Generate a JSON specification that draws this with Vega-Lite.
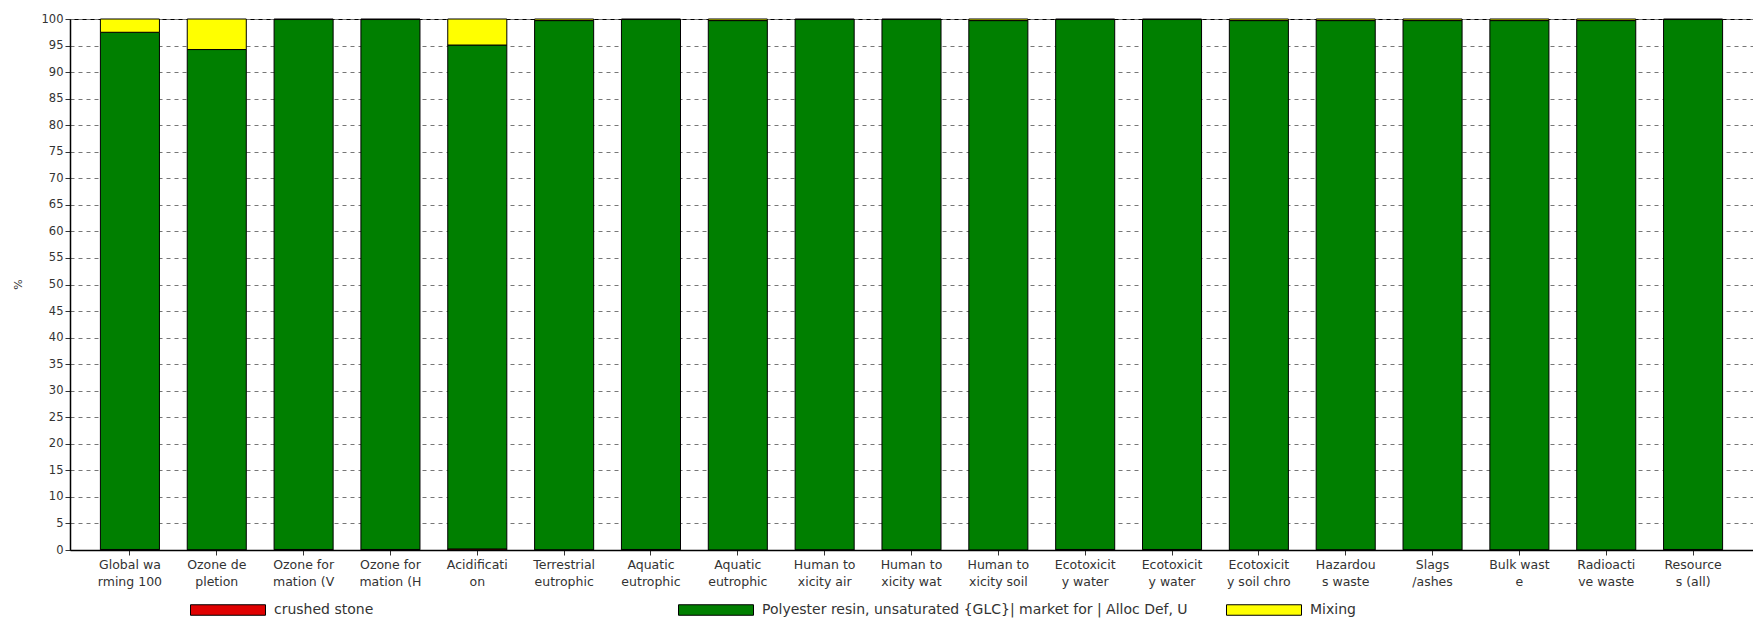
{
  "$schema": "https://vega.github.io/schema/vega-lite/v6.json",
  "width": 1683,
  "height": 531,
  "autosize": {"type": "none"},
  "padding": {"left": 70, "top": 19, "right": 0, "bottom": 70},
  "background": "white",
  "config": {
    "view": {"stroke": "black", "strokeWidth": 1},
    "font": "DejaVu Sans"
  },
  "data": {
    "values": [
      {"category": "Global wa|rming 100", "source": "crushed stone", "value": 0.1},
      {"category": "Global wa|rming 100", "source": "Polyester resin, unsaturated {GLC}| market for | Alloc Def, U", "value": 97.4},
      {"category": "Global wa|rming 100", "source": "Mixing", "value": 2.5},
      {"category": "Ozone de|pletion", "source": "crushed stone", "value": 0.05},
      {"category": "Ozone de|pletion", "source": "Polyester resin, unsaturated {GLC}| market for | Alloc Def, U", "value": 94.2},
      {"category": "Ozone de|pletion", "source": "Mixing", "value": 5.75},
      {"category": "Ozone for|mation (V", "source": "crushed stone", "value": 0.1},
      {"category": "Ozone for|mation (V", "source": "Polyester resin, unsaturated {GLC}| market for | Alloc Def, U", "value": 99.8},
      {"category": "Ozone for|mation (V", "source": "Mixing", "value": 0.1},
      {"category": "Ozone for|mation (H", "source": "crushed stone", "value": 0.1},
      {"category": "Ozone for|mation (H", "source": "Polyester resin, unsaturated {GLC}| market for | Alloc Def, U", "value": 99.8},
      {"category": "Ozone for|mation (H", "source": "Mixing", "value": 0.1},
      {"category": "Acidificati|on", "source": "crushed stone", "value": 0.2},
      {"category": "Acidificati|on", "source": "Polyester resin, unsaturated {GLC}| market for | Alloc Def, U", "value": 94.9},
      {"category": "Acidificati|on", "source": "Mixing", "value": 4.9},
      {"category": "Terrestrial|eutrophic", "source": "crushed stone", "value": 0.05},
      {"category": "Terrestrial|eutrophic", "source": "Polyester resin, unsaturated {GLC}| market for | Alloc Def, U", "value": 99.65},
      {"category": "Terrestrial|eutrophic", "source": "Mixing", "value": 0.3},
      {"category": "Aquatic|eutrophic|N", "source": "crushed stone", "value": 0.1},
      {"category": "Aquatic|eutrophic|N", "source": "Polyester resin, unsaturated {GLC}| market for | Alloc Def, U", "value": 99.8},
      {"category": "Aquatic|eutrophic|N", "source": "Mixing", "value": 0.1},
      {"category": "Aquatic|eutrophic|P", "source": "crushed stone", "value": 0.02},
      {"category": "Aquatic|eutrophic|P", "source": "Polyester resin, unsaturated {GLC}| market for | Alloc Def, U", "value": 99.68},
      {"category": "Aquatic|eutrophic|P", "source": "Mixing", "value": 0.3},
      {"category": "Human to|xicity air", "source": "crushed stone", "value": 0.05},
      {"category": "Human to|xicity air", "source": "Polyester resin, unsaturated {GLC}| market for | Alloc Def, U", "value": 99.85},
      {"category": "Human to|xicity air", "source": "Mixing", "value": 0.1},
      {"category": "Human to|xicity wat", "source": "crushed stone", "value": 0.05},
      {"category": "Human to|xicity wat", "source": "Polyester resin, unsaturated {GLC}| market for | Alloc Def, U", "value": 99.85},
      {"category": "Human to|xicity wat", "source": "Mixing", "value": 0.1},
      {"category": "Human to|xicity soil", "source": "crushed stone", "value": 0.02},
      {"category": "Human to|xicity soil", "source": "Polyester resin, unsaturated {GLC}| market for | Alloc Def, U", "value": 99.68},
      {"category": "Human to|xicity soil", "source": "Mixing", "value": 0.3},
      {"category": "Ecotoxicit|y water|chronic", "source": "crushed stone", "value": 0.1},
      {"category": "Ecotoxicit|y water|chronic", "source": "Polyester resin, unsaturated {GLC}| market for | Alloc Def, U", "value": 99.8},
      {"category": "Ecotoxicit|y water|chronic", "source": "Mixing", "value": 0.1},
      {"category": "Ecotoxicit|y water|acute", "source": "crushed stone", "value": 0.1},
      {"category": "Ecotoxicit|y water|acute", "source": "Polyester resin, unsaturated {GLC}| market for | Alloc Def, U", "value": 99.8},
      {"category": "Ecotoxicit|y water|acute", "source": "Mixing", "value": 0.1},
      {"category": "Ecotoxicit|y soil chro", "source": "crushed stone", "value": 0.02},
      {"category": "Ecotoxicit|y soil chro", "source": "Polyester resin, unsaturated {GLC}| market for | Alloc Def, U", "value": 99.68},
      {"category": "Ecotoxicit|y soil chro", "source": "Mixing", "value": 0.3},
      {"category": "Hazardou|s waste", "source": "crushed stone", "value": 0.05},
      {"category": "Hazardou|s waste", "source": "Polyester resin, unsaturated {GLC}| market for | Alloc Def, U", "value": 99.65},
      {"category": "Hazardou|s waste", "source": "Mixing", "value": 0.3},
      {"category": "Slags|/ashes", "source": "crushed stone", "value": 0.05},
      {"category": "Slags|/ashes", "source": "Polyester resin, unsaturated {GLC}| market for | Alloc Def, U", "value": 99.65},
      {"category": "Slags|/ashes", "source": "Mixing", "value": 0.3},
      {"category": "Bulk wast|e", "source": "crushed stone", "value": 0.05},
      {"category": "Bulk wast|e", "source": "Polyester resin, unsaturated {GLC}| market for | Alloc Def, U", "value": 99.65},
      {"category": "Bulk wast|e", "source": "Mixing", "value": 0.3},
      {"category": "Radioacti|ve waste", "source": "crushed stone", "value": 0.02},
      {"category": "Radioacti|ve waste", "source": "Polyester resin, unsaturated {GLC}| market for | Alloc Def, U", "value": 99.68},
      {"category": "Radioacti|ve waste", "source": "Mixing", "value": 0.3},
      {"category": "Resource|s (all)", "source": "crushed stone", "value": 0.1},
      {"category": "Resource|s (all)", "source": "Polyester resin, unsaturated {GLC}| market for | Alloc Def, U", "value": 99.8},
      {"category": "Resource|s (all)", "source": "Mixing", "value": 0.1}
    ]
  },
  "transform": [
    {"calculate": "indexof(['crushed stone','Polyester resin, unsaturated {GLC}| market for | Alloc Def, U','Mixing'], datum.source)", "as": "stackOrder"}
  ],
  "mark": {"type": "bar", "stroke": "black", "strokeWidth": 1},
  "encoding": {
    "x": {
      "field": "category",
      "type": "nominal",
      "sort": null,
      "scale": {"paddingInner": 0.32, "paddingOuter": 0.35},
      "axis": {
        "title": null,
        "labelAngle": 0,
        "labelExpr": "slice(split(datum.value, '|'), 0, 2)",
        "labelFontSize": 12.5,
        "labelLineHeight": 17,
        "labelColor": "#333333",
        "labelPadding": 3,
        "labelBaseline": "top",
        "tickSize": 5,
        "tickColor": "#333333",
        "domainColor": "black",
        "domainWidth": 1.5,
        "grid": false
      }
    },
    "y": {
      "field": "value",
      "type": "quantitative",
      "stack": "zero",
      "scale": {"domain": [0, 100], "nice": false},
      "axis": {
        "title": "%",
        "titleFontSize": 11,
        "titleFontWeight": "normal",
        "titleColor": "#333333",
        "titleX": -47,
        "titleY": 265,
        "values": [0, 5, 10, 15, 20, 25, 30, 35, 40, 45, 50, 55, 60, 65, 70, 75, 80, 85, 90, 95, 100],
        "labelFontSize": 11.5,
        "labelColor": "#333333",
        "tickSize": 5,
        "tickColor": "#333333",
        "domainColor": "black",
        "domainWidth": 1.5,
        "grid": true,
        "gridColor": "#777777",
        "gridDash": [4, 4],
        "gridWidth": 1
      }
    },
    "color": {
      "field": "source",
      "type": "nominal",
      "scale": {
        "domain": ["crushed stone", "Polyester resin, unsaturated {GLC}| market for | Alloc Def, U", "Mixing"],
        "range": ["#e00000", "#007f00", "#ffff00"]
      },
      "legend": {
        "title": null,
        "orient": "none",
        "legendX": 120,
        "legendY": 553,
        "direction": "horizontal",
        "columns": 3,
        "gridAlign": "none",
        "columnPadding": 36,
        "symbolType": "M-1,-0.14H1V0.14H-1Z",
        "symbolSize": 5625,
        "symbolStrokeColor": "black",
        "symbolStrokeWidth": 1,
        "symbolOpacity": 1,
        "labelExpr": "datum.label == 'crushed stone' ? pad(datum.label, 39, '\u2800') : datum.label",
        "labelFontSize": 14,
        "labelColor": "#333333",
        "labelLimit": 800,
        "labelOffset": 8
      }
    },
    "order": {"field": "stackOrder"}
  }
}
